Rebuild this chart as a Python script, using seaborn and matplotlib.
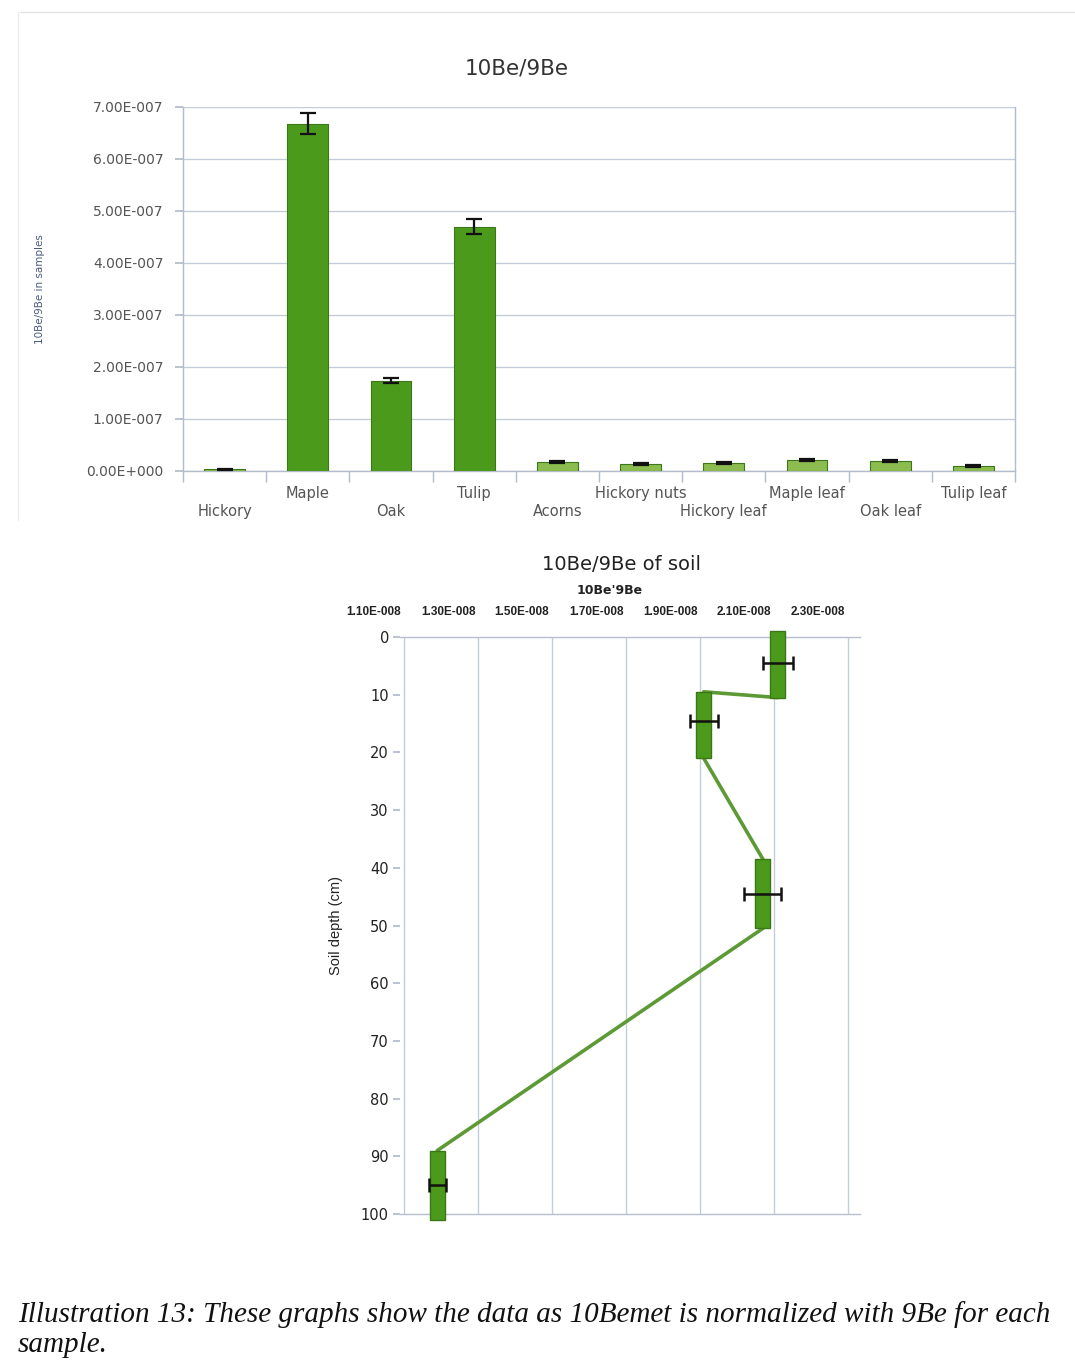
import numpy as np
import pandas as pd
import matplotlib
matplotlib.use("Agg")
import matplotlib.pyplot as plt
import matplotlib.transforms as mtransforms
from matplotlib.lines import Line2D
import seaborn as sns

# ---- sample ratios (top chart) ----
categories = ["Hickory", "Maple", "Oak", "Tulip", "Acorns", "Hickory nuts",
              "Hickory leaf", "Maple leaf", "Oak leaf", "Tulip leaf"]
ratio = [3.0e-9, 6.68e-7, 1.74e-7, 4.70e-7, 1.7e-8, 1.35e-8,
         1.5e-8, 2.1e-8, 1.85e-8, 1.0e-8]
ratio_err = [1.0e-9, 2.0e-8, 5.0e-9, 1.4e-8, 2.0e-9, 2.0e-9,
             2.0e-9, 2.0e-9, 2.0e-9, 2.0e-9]
y_ticks_top = [0, 1e-7, 2e-7, 3e-7, 4e-7, 5e-7, 6e-7, 7e-7]

# ---- soil profile (bottom chart) ----
soil_ratio = [2.11e-8, 1.91e-8, 2.07e-8, 1.19e-8]
soil_err = [0.040e-8, 0.038e-8, 0.050e-8, 0.023e-8]
layer_top = [-1.0, 9.5, 38.5, 89.0]
layer_bottom = [10.5, 21.0, 50.5, 101.0]
sample_depth = [4.5, 14.5, 44.5, 95.0]
x_ticks_soil = [1.1e-8, 1.3e-8, 1.5e-8, 1.7e-8, 1.9e-8, 2.1e-8, 2.3e-8]
depth_ticks = list(range(0, 101, 10))

GREEN = "#4c9a1c"
GREEN_EDGE = "#3b7716"
LIGHT_GREEN = "#8cbc50"
GRID = "#c3ccd9"
TICK_TXT = "#555555"


def sci_label(v):
    if v == 0:
        return "0.00E+000"
    exp = int(np.floor(np.log10(abs(v)) + 1e-9))
    mant = v / 10 ** exp
    sign = "-" if exp < 0 else "+"
    return f"{mant:.2f}E{sign}{abs(exp):03d}"


sns.set_theme(style="white")
plt.rcParams["font.family"] = ["DejaVu Sans"]

fig = plt.figure(figsize=(10.75, 13.62), dpi=100)
W, H = 1075, 1362


def fig_rect(x0, y0, x1, y1):
    return [x0 / W, 1 - y1 / H, (x1 - x0) / W, (y1 - y0) / H]


# ================= top chart =================
ax1 = fig.add_axes(fig_rect(183, 107, 1015, 471))
df = pd.DataFrame({"sample": categories, "ratio": ratio})
palette = [GREEN if r > 1e-7 else LIGHT_GREEN for r in ratio]
sns.barplot(data=df, x="sample", y="ratio", hue="sample", palette=palette,
            legend=False, width=0.49, saturation=1, edgecolor=GREEN_EDGE,
            linewidth=0.8, ax=ax1, zorder=3)
ax1.errorbar(np.arange(len(categories)), ratio, yerr=ratio_err, fmt="none",
             ecolor="#111111", elinewidth=1.6, capsize=6, capthick=1.6,
             zorder=4)
ax1.set_xlim(-0.5, len(categories) - 0.5)
ax1.set_ylim(0, 7e-7)
ax1.set_yticks(y_ticks_top)
ax1.set_yticklabels([sci_label(v) for v in y_ticks_top], color=TICK_TXT,
                    fontsize=10)
ax1.yaxis.grid(True, color=GRID, linewidth=1.0, zorder=0)
ax1.set_axisbelow(True)
ax1.set_xlabel("")
ax1.set_ylabel("10Be/9Be in samples", fontsize=7.5, color="#4a5a80",
               labelpad=30)
fig.text(517 / W, 1 - 69 / H, "10Be/9Be", fontsize=15.5, color="#333333",
         ha="center", va="center")
for s in ["left", "right", "top", "bottom"]:
    ax1.spines[s].set_visible(True)
    ax1.spines[s].set_color("#b3bccb")
    ax1.spines[s].set_linewidth(1.0)
ax1.spines["top"].set_visible(False)
ax1.tick_params(axis="y", which="major", left=True, length=6, color="#b3bccb",
                pad=8)
ax1.set_xticks(np.arange(len(categories)))
ax1.set_xticklabels(categories, fontsize=10.5, color=TICK_TXT)
ax1.set_xticks(np.arange(-0.5, len(categories), 1.0), minor=True)
ax1.tick_params(axis="x", which="major", bottom=True, length=0)
ax1.tick_params(axis="x", which="minor", bottom=True, length=8,
                color="#b3bccb", width=1.0)
for i, t in enumerate(ax1.xaxis.get_major_ticks()):
    t.set_pad(24 if i % 2 == 0 else 11)

# ================= bottom chart =================
ax2 = fig.add_axes(fig_rect(400, 637, 860, 1214))
px = 0.2e-8 / 74.0
ax2.set_xlim(1.1e-8 - 4 * px, 2.3e-8 + 12 * px)
ax2.set_ylim(100, 0)

# connecting profile line through each layer's top and bottom
line_x, line_y = [], []
for v, t, b in zip(soil_ratio, layer_top, layer_bottom):
    line_x += [v, v]
    line_y += [t, b]
prof = pd.DataFrame({"ratio": line_x, "depth": line_y})
sns.lineplot(data=prof, x="ratio", y="depth", sort=False, estimator=None,
             color="#5d9a35", linewidth=2.6, ax=ax2, zorder=3)

bar_w = 15 * px
heights = [b - t for t, b in zip(layer_top, layer_bottom)]
ax2.bar(soil_ratio, heights, bottom=layer_top, width=bar_w, color=GREEN,
        edgecolor=GREEN_EDGE, linewidth=1.0, zorder=4, clip_on=False)
ax2.errorbar(soil_ratio, sample_depth, xerr=soil_err, fmt="none",
             ecolor="#111111", elinewidth=1.8, capsize=5, capthick=1.8,
             zorder=5, clip_on=False)

ax2.xaxis.tick_top()
ax2.xaxis.set_label_position("top")
ax2.set_xticks(x_ticks_soil)
ax2.set_xticklabels([sci_label(v) for v in x_ticks_soil], fontsize=8.5,
                    fontweight="bold", color="#222222",
                    family="Liberation Sans")
ax2.tick_params(axis="x", which="major", top=False, length=0, pad=14)
# category axis labels sit slightly left of their gridlines
shift = mtransforms.ScaledTranslation(-30 / 100, 0, fig.dpi_scale_trans)
for lab in ax2.get_xticklabels():
    lab.set_transform(lab.get_transform() + shift)
ax2.set_xlabel("10Be'9Be", fontsize=9, fontweight="bold", color="#222222",
               labelpad=8)
ax2.xaxis.label.set_x((610 - 400) / (860 - 400))
fig.text(621 / W, 1 - 565 / H, "10Be/9Be of soil", fontsize=14,
         color="#222222", ha="center", va="center")
ax2.xaxis.grid(True, color=GRID, linewidth=1.0, zorder=0)
ax2.yaxis.grid(False)
ax2.set_yticks(depth_ticks)
ax2.set_yticklabels([str(d) for d in depth_ticks], fontsize=10.5,
                    color="#222222")
ax2.tick_params(axis="y", which="major", left=True, length=5,
                color="#b3bccb", pad=3)
ax2.set_ylabel("Soil depth (cm)", fontsize=10.5, color="#222222",
               family="Liberation Sans", labelpad=13)
for s in ["left", "right"]:
    ax2.spines[s].set_visible(False)
for s in ["top", "bottom"]:
    ax2.spines[s].set_visible(True)
    ax2.spines[s].set_color("#b8bfcc")
    ax2.spines[s].set_linewidth(1.0)

# ---- page frame and caption ----
fig.add_artist(Line2D([20 / W, 1.0], [1 - 12 / H, 1 - 12 / H],
                      color="#e2e2e2", linewidth=1.0))
fig.add_artist(Line2D([18 / W, 18 / W], [1 - 12 / H, 1 - 520 / H],
                      color="#ececec", linewidth=1.0))
fig.text(18 / W, 1 - 1322 / H,
         "Illustration 13: These graphs show the data as 10Bemet is "
         "normalized with 9Be for each",
         fontsize=21, family="Liberation Serif", style="italic",
         color="#111111", va="baseline", ha="left")
fig.text(18 / W, 1 - 1352 / H, "sample.", fontsize=21,
         family="Liberation Serif", style="italic", color="#111111",
         va="baseline", ha="left")

fig.savefig("out.png", dpi=100)
